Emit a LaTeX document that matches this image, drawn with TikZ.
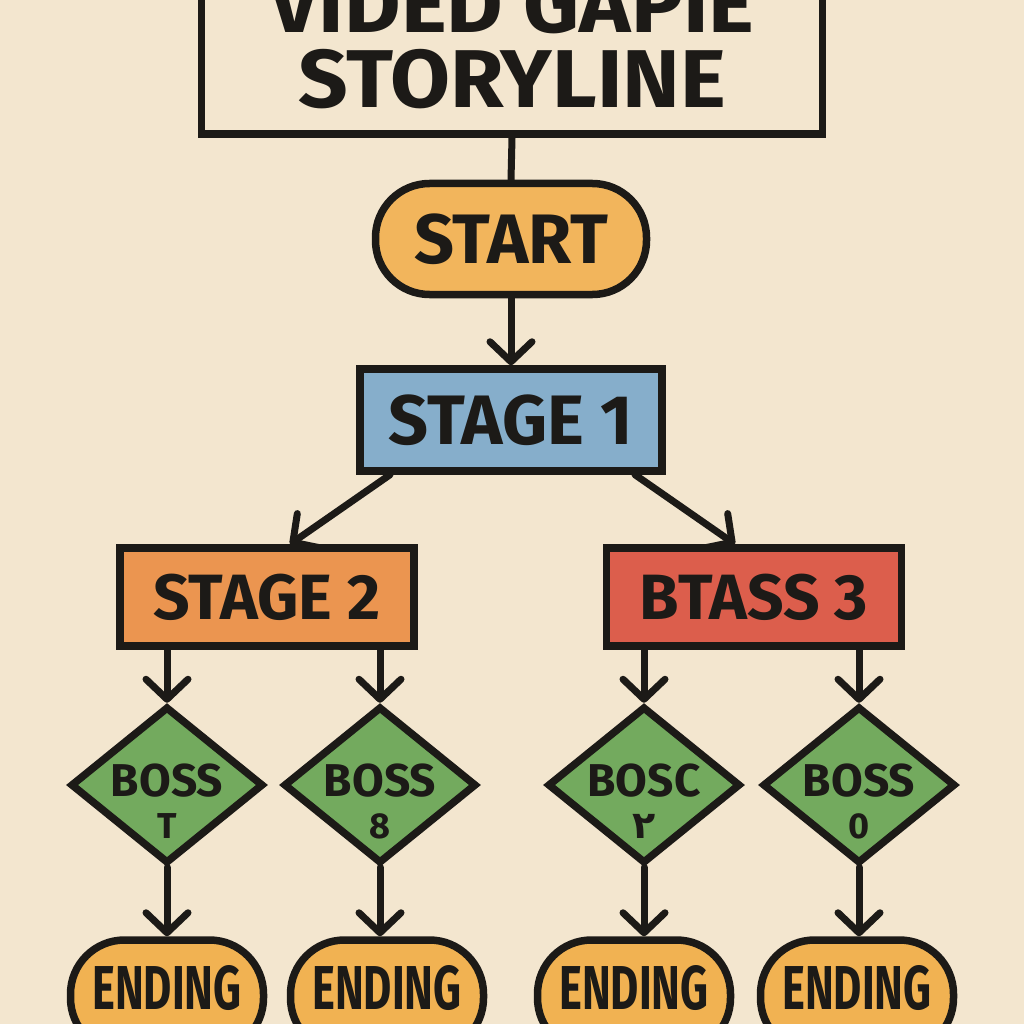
\documentclass[tikz,border=0pt]{standalone}
\usepackage{fontspec}
\setmainfont{Fira Sans}
\newfontfamily\condfont[FakeStretch=0.7]{Fira Sans}
\newfontfamily\widefont[FakeStretch=1.06]{Fira Sans}
\newfontfamily\digitfont{DejaVu Sans}
\usetikzlibrary{arrows.meta,shapes.geometric,calc}
\definecolor{paper}{HTML}{F3E6CF}
\definecolor{ink}{HTML}{1C1A17}
\definecolor{startc}{HTML}{F2B55C}
\definecolor{bluec}{HTML}{86AECB}
\definecolor{orangec}{HTML}{EB9550}
\definecolor{redc}{HTML}{DC5E4C}
\definecolor{greenc}{HTML}{73AA5E}
\definecolor{endc}{HTML}{F1B252}
\tikzset{
  box/.style={draw=ink, line width=7.5pt, rectangle, inner sep=0pt, text=ink, font=\bfseries},
  pillbox/.style={box, rounded corners=54pt},
  gem/.style={draw=ink, line width=7.5pt, diamond, aspect=1.23, inner sep=0pt,
    minimum width=193pt, minimum height=157pt, fill=greenc},
  bossone/.style={text=ink, font=\bfseries\fontsize{46}{46}\selectfont, inner sep=0pt, yshift=4pt},
  bosstwo/.style={text=ink, font=\bfseries\fontsize{36}{36}\selectfont, inner sep=0pt, yshift=-41pt},
  line/.style={draw=ink, line width=7pt, line cap=round},
  arr/.style={line, -{Straight Barb[length=20pt,width=42pt,line cap=round,line join=round]}},
}
\begin{document}
\begin{tikzpicture}[x=1pt,y=-1pt]
\useasboundingbox (0,0) rectangle (1024,1024);
\clip (0,0) rectangle (1024,1024);
\fill[paper] (0,0) rectangle (1024,1024);

% title box
\node[box, fill=paper, minimum width=621pt, minimum height=200pt] (title) at (512,34) {};
\node[anchor=base, text=ink, font=\widefont\bfseries\fontsize{82}{82}\selectfont, inner sep=0pt] (tline1) at (512,33) {VIDED GAPIE};
\node[anchor=base, text=ink, font=\widefont\bfseries\fontsize{82}{82}\selectfont, inner sep=0pt] (tline2) at (512,108) {STORYLINE};

% start
\node[pillbox, fill=startc, minimum width=271pt, minimum height=111pt, font=\bfseries\fontsize{70}{70}\selectfont] (start) at (511,239) {START};

% stages
\node[box, fill=bluec, minimum width=302pt, minimum height=102pt, font=\bfseries\fontsize{70}{70}\selectfont] (s1) at (511,420) {STAGE 1};
\node[box, fill=orangec, minimum width=294pt, minimum height=98pt, font=\bfseries\fontsize{64}{64}\selectfont] (s2) at (267,597) {STAGE 2};
\node[box, fill=redc, minimum width=295pt, minimum height=98pt, font=\bfseries\fontsize{64}{64}\selectfont] (s3) at (754,597) {BTASS 3};

% diamonds
\node[gem, label={[bossone]center:BOSS}, label={[bosstwo]center:T}] (d1) at (167,785) {};
\node[gem, label={[bossone]center:BOSS}, label={[bosstwo]center:8}] (d2) at (380,785) {};
\node[gem, label={[bossone]center:BOSC}, label={[bosstwo]center:{\digitfont\fontsize{38}{38}\selectfont ٢}}] (d3) at (644,785) {};
\node[gem, label={[bossone]center:BOSS}, label={[bosstwo]center:0}] (d4) at (859,785) {};

% endings
\foreach \n/\x in {e1/167, e2/387, e3/634, e4/857}{
  \node[pillbox, fill=endc, minimum width=193pt, minimum height=112pt] (\n) at (\x,996) {};
  \node[text=ink, font=\condfont\bfseries\fontsize{62}{62}\selectfont, inner sep=0pt] (\n t) at (\x,988) {ENDING};
}

% connectors
\draw[line] (title.south) -- (start.north);
\draw[arr] (start.south) -- (s1.north);
\draw[arr] ($(s1.south)+(-121,0)$) -- ($(s2.north)+(23,0)$);
\draw[arr] ($(s1.south)+(124,0)$) -- ($(s3.north)+(-19,0)$);
\draw[arr] (s2.south -| d1.north) -- (d1.north);
\draw[arr] (s2.south -| d2.north) -- (d2.north);
\draw[arr] (s3.south -| d3.north) -- (d3.north);
\draw[arr] (s3.south -| d4.north) -- (d4.north);
\draw[arr] (d1.south) -- (e1.north -| d1.south);
\draw[arr] (d2.south) -- (e2.north -| d2.south);
\draw[arr] (d3.south) -- (e3.north -| d3.south);
\draw[arr] (d4.south) -- (e4.north -| d4.south);
\end{tikzpicture}
\end{document}
